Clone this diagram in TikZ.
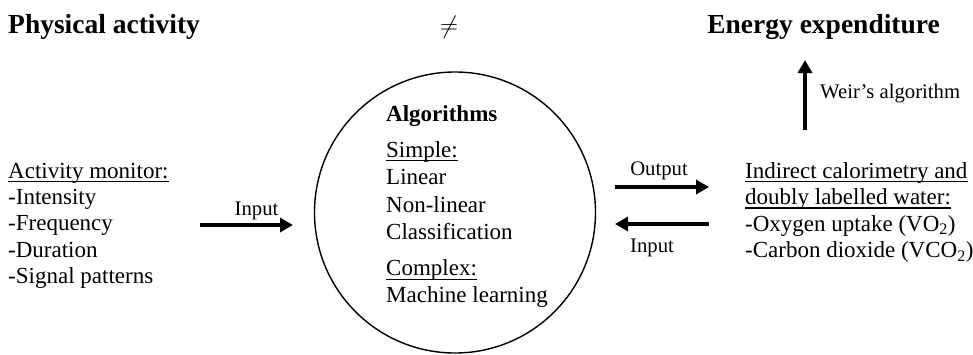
\documentclass[tikz,border=0pt]{standalone}
\usepackage{fontspec}
\setmainfont{Liberation Serif}
\usetikzlibrary{arrows.meta,calc}

\tikzset{
  txt/.style={inner sep=0pt, anchor=base west, font=\fontsize{23}{26.5}\selectfont},
  ttl/.style={inner sep=0pt, font=\fontsize{27.5}{30}\selectfont\bfseries},
  lbl/.style={inner sep=0pt, font=\fontsize{20.7}{24}\selectfont},
  fat/.style={line width=4pt, -{Triangle[length=13pt,width=14pt]}},
  uline/.style={line width=1.4pt},
}

\newcommand{\ul}[1]{%
  \draw[uline] ($(#1.base west)+(0,3.6)$) -- ($(#1.base east)+(0,3.6)$);}

\begin{document}
\begin{tikzpicture}[x=1pt,y=-1pt]
\useasboundingbox (0,0) rectangle (973,354);

% headings
\node[ttl, anchor=base west] (pa) at (8,33) {Physical activity};
\node[inner sep=0pt, font=\fontsize{24}{28}\selectfont] (neq) at (449,27) {$\neq$};
\node[ttl, anchor=base east] (ee) at (940,33) {Energy expenditure};

% activity monitor list
\node[txt] (am) at (8,178) {Activity monitor:};
\node[txt] (am1) at (8,204.3) {-Intensity};
\node[txt] (am2) at (8,230.6) {-Frequency};
\node[txt] (am3) at (8,257) {-Duration};
\node[txt] (am4) at (8,283.3) {-Signal patterns};
\ul{am}

% algorithms circle
\node[circle, draw, line width=1.4pt, minimum size=281pt, inner sep=0pt] (alg) at (455,212.5) {};
\node[txt, font=\fontsize{23}{26.5}\selectfont\bfseries] (a0) at (386,121.7) {Algorithms};
\node[txt] (a1) at (386,157) {Simple:};
\node[txt] (a2) at (386,184.5) {Linear};
\node[txt] (a3) at (386,212) {Non-linear};
\node[txt] (a4) at (386,239) {Classification};
\node[txt] (a5) at (386,275.7) {Complex:};
\node[txt] (a6) at (386,302) {Machine learning};
\ul{a1}
\ul{a5}

% reference measurements list
\node[txt] (ic) at (745,178) {Indirect calorimetry and};
\node[txt] (dw) at (745,204.5) {doubly labelled water:};
\node[txt] (ox) at (745,231) {-Oxygen uptake (VO\textsubscript{2})};
\node[txt] (cd) at (745,257.5) {-Carbon dioxide (VCO\textsubscript{2})};
\ul{ic}
\ul{dw}

% connectors
\coordinate (inL0) at (200,225);
\coordinate (inL1) at (293,225);
\draw[fat] (inL0) -- (inL1);
\node[lbl, anchor=base] (inLt) at (256.5,215) {Input};

\coordinate (out0) at (615,187);
\coordinate (out1) at (709,187);
\draw[fat] (out0) -- (out1);
\node[lbl, anchor=base] (outt) at (659,175) {Output};

\coordinate (inR0) at (709,224);
\coordinate (inR1) at (615,224);
\draw[fat] (inR0) -- (inR1);
\node[lbl, anchor=base west] (inRt) at (630,252) {Input};

\coordinate (w0) at (805,130);
\coordinate (w1) at (805,60);
\draw[fat] (w0) -- (w1);
\node[lbl, anchor=base west] (wt) at (820,98) {Weir’s algorithm};
\end{tikzpicture}
\end{document}
